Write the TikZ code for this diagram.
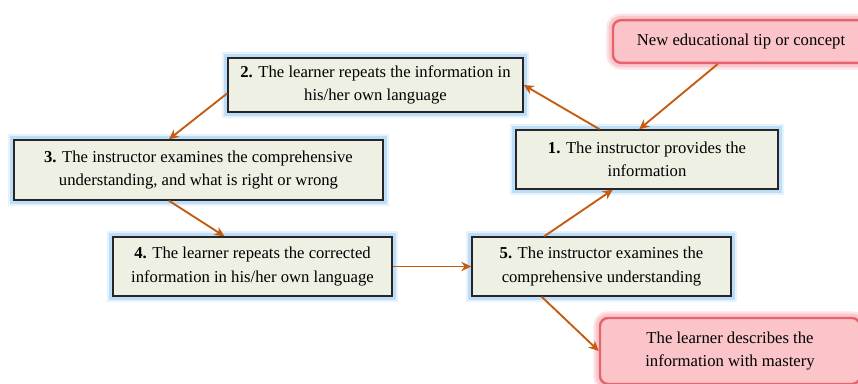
\documentclass[tikz,border=0pt]{standalone}
\usepackage{fontspec}
\setmainfont{Liberation Serif}
\usetikzlibrary{arrows.meta,calc}

\definecolor{stepfill}{RGB}{238,240,227}
\definecolor{glowblue}{RGB}{160,208,245}
\definecolor{arrowbrown}{RGB}{197,90,17}
\definecolor{pinkfill}{RGB}{250,196,200}
\definecolor{pinkedge}{RGB}{230,98,108}
\definecolor{pinkglow}{RGB}{250,200,204}

\begin{document}
\begin{tikzpicture}[x=0.75pt, y=-0.75pt,
    stepbox/.style={rectangle, draw=black!85, line width=1pt, fill=stepfill, align=center, inner sep=0pt,
        preaction={draw=glowblue!70, line width=5.5pt, preaction={draw=glowblue!25, line width=8.5pt}},
        font=\fontsize{12.5}{17.6}\selectfont},
    notebox/.style={rectangle, rounded corners=6pt, draw=pinkedge, line width=1.8pt, fill=pinkfill, align=center, inner sep=0pt,
        preaction={draw=pinkglow, line width=6.5pt, preaction={draw=pinkglow!50, line width=10pt}},
        font=\fontsize{12.5}{17.6}\selectfont},
    flow/.style={draw=arrowbrown, line width=1.4pt, -{Stealth[length=7.5pt, width=7pt]}}
]
\useasboundingbox (0,0) rectangle (858,383);

% Extra notes
\node[notebox, minimum width=192pt, minimum height=32pt] (tip) at (741,41.5) {New educational tip or concept};
\node[notebox, minimum width=195pt, minimum height=49.5pt] (mastery) at (730,351) {The learner describes the\\information with mastery};

% Cycle steps
\node[stepbox, minimum width=196.5pt, minimum height=44.3pt] (s1) at (647,159.5) {\textbf{1.} The instructor provides the\\information};
\node[stepbox, minimum width=221.3pt, minimum height=40.5pt] (s2) at (375.5,85) {\textbf{2.} The learner repeats the information in\\his/her own language};
\node[stepbox, minimum width=276.8pt, minimum height=45pt] (s3) at (198.5,170) {\textbf{3.} The instructor examines the comprehensive\\understanding, and what is right or wrong};
\node[stepbox, minimum width=209.3pt, minimum height=44.3pt] (s4) at (252.5,266.5) {\textbf{4.} The learner repeats the corrected\\information in his/her own language};
\node[stepbox, minimum width=194.3pt, minimum height=44.3pt] (s5) at (601.5,266.5) {\textbf{5.} The instructor examines the\\comprehensive understanding};

% Arrows
\draw[flow] ($(tip.south west)!0.41!(tip.south east)$) -- ($(s1.north west)!0.47!(s1.north east)$);
\draw[flow] ($(s1.north west)!0.32!(s1.north east)$) -- (s2.east);
\draw[flow] ($(s2.north west)!0.65!(s2.south west)$) -- ($(s3.north west)!0.42!(s3.north east)$);
\draw[flow] ($(s3.south west)!0.42!(s3.south east)$) -- ($(s4.north west)!0.40!(s4.north east)$);
\draw[flow] (s4.east) -- (s5.west);
\draw[flow] ($(s5.north west)!0.28!(s5.north east)$) -- ($(s1.south west)!0.37!(s1.south east)$);
\draw[flow] ($(s5.south west)!0.27!(s5.south east)$) -- (mastery.west);

\end{tikzpicture}
\end{document}
